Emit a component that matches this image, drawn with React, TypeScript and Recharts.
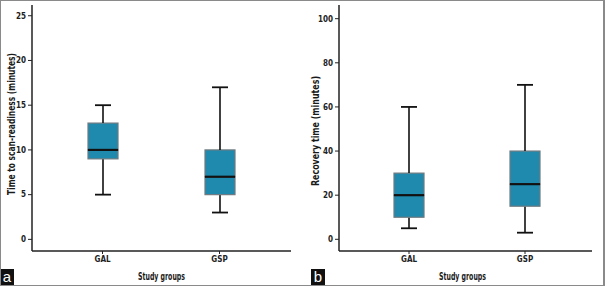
import React from 'react';
import { ComposedChart, Bar, XAxis, YAxis } from 'recharts';

const groups = ['GAL', 'GSP'];

const scanMin = [5, 3];
const scanQ1 = [9, 5];
const scanMedian = [10, 7];
const scanQ3 = [13, 10];
const scanMax = [15, 17];

const recMin = [5, 3];
const recQ1 = [10, 15];
const recMedian = [20, 25];
const recQ3 = [30, 40];
const recMax = [60, 70];

const scanTicks = [0, 5, 10, 15, 20, 25];
const recTicks = [0, 20, 40, 60, 80, 100];

const buildData = (mn: number[], q1: number[], md: number[], q3: number[], mx: number[]) =>
  groups.map((g, i) => ({
    group: g,
    base: mn[i],
    lowWhisker: q1[i] - mn[i],
    lowBox: md[i] - q1[i],
    highBox: q3[i] - md[i],
    highWhisker: mx[i] - q3[i],
  }));

const scanData = buildData(scanMin, scanQ1, scanMedian, scanQ3, scanMax);
const recData = buildData(recMin, recQ1, recMedian, recQ3, recMax);

const BOX_FILL = '#1f8aad';
const BOX_STROKE = '#6f7a80';
const FONT = "'Liberation Sans Narrow', 'DejaVu Sans Condensed', 'Arial Narrow', Arial, sans-serif";
const CAP = 8;

const Empty = () => <g />;

const LowWhisker = (p: any) => {
  const cx = p.x + p.width / 2;
  return (
    <g>
      <line x1={cx} x2={cx} y1={p.y} y2={p.y + p.height} stroke="#111" strokeWidth={1.6} />
      <line x1={cx - CAP} x2={cx + CAP} y1={p.y + p.height} y2={p.y + p.height} stroke="#111" strokeWidth={1.8} />
    </g>
  );
};

const HighWhisker = (p: any) => {
  const cx = p.x + p.width / 2;
  return (
    <g>
      <line x1={cx} x2={cx} y1={p.y} y2={p.y + p.height} stroke="#111" strokeWidth={1.6} />
      <line x1={cx - CAP} x2={cx + CAP} y1={p.y} y2={p.y} stroke="#111" strokeWidth={1.8} />
    </g>
  );
};

const LowBox = (p: any) => (
  <rect x={p.x} y={p.y} width={p.width} height={p.height} fill={BOX_FILL} stroke={BOX_STROKE} strokeWidth={1.2} />
);

const HighBox = (p: any) => (
  <g>
    <rect x={p.x} y={p.y} width={p.width} height={p.height} fill={BOX_FILL} stroke={BOX_STROKE} strokeWidth={1.2} />
    <line x1={p.x} x2={p.x + p.width} y1={p.y + p.height} y2={p.y + p.height} stroke="#111" strokeWidth={2.2} />
  </g>
);

const tickStyle = { fontFamily: FONT, fontSize: 8, fontWeight: 700, fill: '#222' };
const labelStyle = { fontFamily: FONT, fontSize: 10.5, fontWeight: 700, fill: '#1a1a1a' };

const YLabel = (text: string, dx: number, cyAbs: number, len: number) => (props: any) => {
  const vb = props.viewBox || {};
  const cx = (vb.x || 0) + dx;
  const cy = cyAbs;
  return (
    <text
      x={cx}
      y={cy}
      transform={`rotate(-90, ${cx}, ${cy})`}
      textAnchor="middle"
      dominantBaseline="central"
      textLength={len}
      lengthAdjust="spacingAndGlyphs"
      style={labelStyle}
    >
      {text}
    </text>
  );
};

const XLabel = (text: string, dx: number, yPos: number, len: number) => (props: any) => {
  const vb = props.viewBox || {};
  const cx = (vb.x || 0) + (vb.width || 0) / 2 + dx;
  return (
    <text x={cx} y={yPos} textAnchor="middle" dominantBaseline="central" textLength={len} lengthAdjust="spacingAndGlyphs" style={labelStyle}>
      {text}
    </text>
  );
};

type PanelProps = {
  data: any[];
  domain: [number, number];
  ticks: number[];
  yLabel: string;
  yWidth: number;
  width: number;
  marginRight: number;
  padL: number;
  padR: number;
  labelDx: number;
  labelCy: number;
  labelLen: number;
  xLabelDx: number;
};

const Panel = ({ data, domain, ticks, yLabel, yWidth, width, marginRight, padL, padR, labelDx, labelCy, labelLen, xLabelDx }: PanelProps) => (
  <ComposedChart width={width} height={286} data={data} margin={{ top: 5, right: marginRight, bottom: 0, left: 0 }}>
    <XAxis
      dataKey="group"
      height={35}
      padding={{ left: padL, right: padR }}
      axisLine={{ stroke: '#222', strokeWidth: 1.5 }}
      tickLine={{ stroke: '#222' }}
      tickSize={3}
      tick={tickStyle}
      label={{ content: XLabel('Study groups', xLabelDx, 276, 47) }}
    />
    <YAxis
      type="number"
      domain={domain}
      ticks={ticks}
      width={yWidth}
      allowDataOverflow
      axisLine={{ stroke: '#222', strokeWidth: 1.5 }}
      tickLine={{ stroke: '#222' }}
      tickSize={4}
      tick={tickStyle}
      label={{ content: YLabel(yLabel, labelDx, labelCy, labelLen) }}
    />
    <Bar dataKey="base" stackId="b" barSize={30} shape={<Empty />} isAnimationActive={false} />
    <Bar dataKey="lowWhisker" stackId="b" barSize={30} shape={<LowWhisker />} isAnimationActive={false} />
    <Bar dataKey="lowBox" stackId="b" barSize={30} shape={<LowBox />} isAnimationActive={false} />
    <Bar dataKey="highBox" stackId="b" barSize={30} shape={<HighBox />} isAnimationActive={false} />
    <Bar dataKey="highWhisker" stackId="b" barSize={30} shape={<HighWhisker />} isAnimationActive={false} />
  </ComposedChart>
);

const badge = (left: number, letter: string) => (
  <div
    style={{
      position: 'absolute',
      left,
      top: 269,
      width: 14,
      height: 16,
      background: '#111',
      color: '#fff',
      fontFamily: 'Arial, Liberation Sans, sans-serif',
      fontSize: 15,
      lineHeight: '16px',
      textAlign: 'center',
    }}
  >
    {letter}
  </div>
);

export default function App() {
  return (
    <div style={{ position: 'absolute', left: 0, top: 0, width: 605, height: 286, background: '#fff', overflow: 'hidden' }}>
      <div style={{ position: 'absolute', left: 0, top: 0 }}>
        <Panel
          data={scanData}
          domain={[-1.3, 26.2]}
          ticks={scanTicks}
          yLabel="Time to scan-readiness (minutes)"
          yWidth={32}
          width={300}
          marginRight={9}
          padL={12}
          padR={13}
          labelDx={10.5}
          labelCy={124}
          labelLen={142}
          xLabelDx={0}
        />
      </div>
      <div style={{ position: 'absolute', left: 300, top: 0 }}>
        <Panel
          data={recData}
          domain={[-5.3, 106.2]}
          ticks={recTicks}
          yLabel="Recovery time (minutes)"
          yWidth={39}
          width={305}
          marginRight={13}
          padL={12}
          padR={9}
          labelDx={15}
          labelCy={131}
          labelLen={110}
          xLabelDx={-3}
        />
      </div>
      {badge(0, 'a')}
      {badge(311, 'b')}
      <div
        style={{
          position: 'absolute',
          left: 0,
          top: 0,
          width: 605,
          height: 286,
          boxSizing: 'border-box',
          borderTop: '1px solid #8a8a8a',
          borderLeft: '1px solid #8a8a8a',
          borderBottom: '1.5px solid #8a8a8a',
          borderRight: '2px solid #8a8a8a',
          pointerEvents: 'none',
        }}
      />
    </div>
  );
}
